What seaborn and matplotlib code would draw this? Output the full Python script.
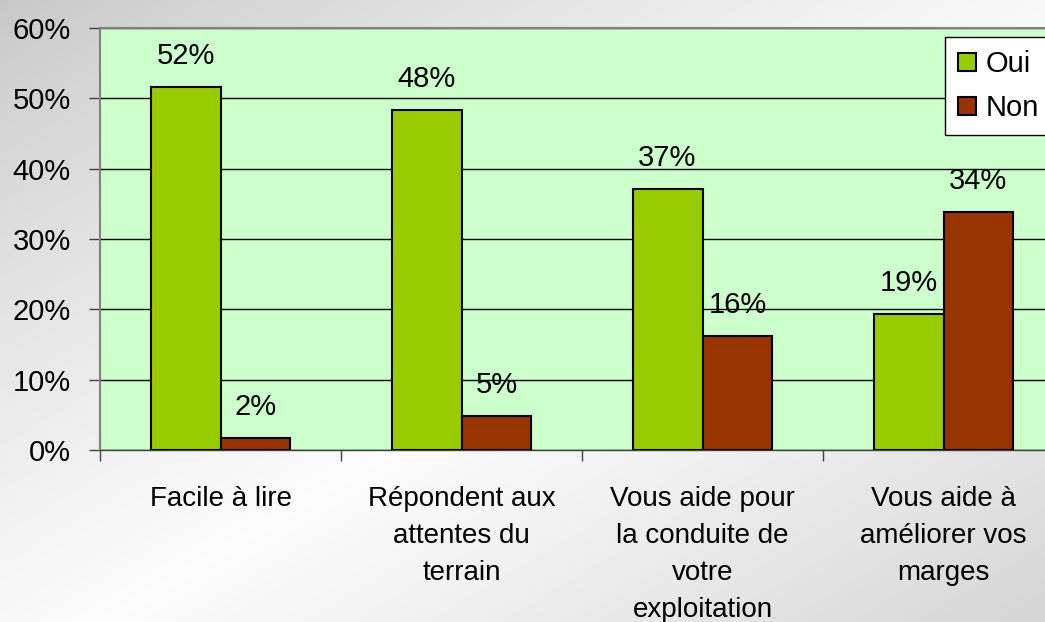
import numpy as np
import pandas as pd
import matplotlib
matplotlib.use("Agg")
import matplotlib.pyplot as plt
import seaborn as sns

categories = ["Facile à lire", "Répondent aux\nattentes du\nterrain",
              "Vous aide pour\nla conduite de\nvotre\nexploitation",
              "Vous aide à\naméliorer vos\nmarges"]
oui = [51.6, 48.4, 37.1, 19.4]
non = [1.7, 4.9, 16.2, 33.9]
series = ["Oui", "Non"]
yticks = [0, 10, 20, 30, 40, 50, 60]

sns.set_theme(style="white")
plt.rcParams['font.family'] = ['Liberation Sans', 'DejaVu Sans']
plt.rcParams['text.color'] = 'black'
plt.rcParams['xtick.color'] = 'black'
plt.rcParams['ytick.color'] = 'black'

df = pd.DataFrame({
    "cat": categories * 2,
    "val": oui + non,
    "rep": ["Oui"] * 4 + ["Non"] * 4,
})

W, H = 1045, 622
fig = plt.figure(figsize=(W / 100, H / 100), dpi=100)

# gradient background
bg = fig.add_axes([0, 0, 1, 1], zorder=-10)
xx, yy = np.meshgrid(np.linspace(0, 1, 400), np.linspace(0, 1, 240))
d = (xx + yy) / 2.0  # 0 at top-left, 1 at bottom-right
v = 1 - np.abs(d - 0.55) / 0.55
shade = 0.78 + 0.21 * np.clip(v, 0, 1) ** 0.8
img = np.dstack([shade, shade, shade])
bg.imshow(img, aspect="auto", extent=[0, 1, 0, 1], origin="upper")
bg.set_axis_off()

left, right, top, bottom = 100, 1064, 28, 450
ax = fig.add_axes([left / W, 1 - bottom / H, (right - left) / W, (bottom - top) / H])
ax.set_facecolor("#CCFFCC")

sns.barplot(data=df, x="cat", y="val", hue="rep", palette=["#99CC00", "#993300"],
            width=0.58, edgecolor="black", linewidth=1.5, saturation=1, ax=ax, zorder=3)

ax.set_ylim(0, 60)
ax.set_xlim(-0.5, 3.5)
ax.set_yticks(yticks)
ax.set_yticklabels([f"{t}%" for t in yticks], fontsize=21)
ax.yaxis.grid(True, color="black", linewidth=1, zorder=0)
ax.set_axisbelow(True)
ax.tick_params(axis="y", which="major", direction="out", length=8, width=1, color="#404040", pad=13, left=True)

ax.set_xticks([-0.5, 0.5, 1.5, 2.5, 3.5])
ax.set_xticklabels([""] * 5)
ax.tick_params(axis="x", which="major", direction="out", length=8, width=1, color="#404040", bottom=True)
ax.set_xticks(range(4), minor=True)
ax.set_xticklabels(categories, minor=True, fontsize=20, linespacing=1.55, ha="center", va="top")
ax.tick_params(axis="x", which="minor", length=0, pad=26)
ax.set_xlabel("")
ax.set_ylabel("")

for sp in ["left", "top", "right"]:
    ax.spines[sp].set_color("#808080")
    ax.spines[sp].set_linewidth(1.5)
ax.spines["bottom"].set_color("#404040")
ax.spines["bottom"].set_linewidth(1)

for cont in ax.containers:
    labels = [f"{round(b.get_height()):.0f}%" for b in cont]
    ax.bar_label(cont, labels=labels, padding=12, fontsize=21)

leg = ax.legend(loc="upper left", bbox_to_anchor=(945 / W, 1 - 37 / H), bbox_transform=fig.transFigure,
                fontsize=21, frameon=True, fancybox=False, edgecolor="black", framealpha=1,
                handlelength=0.6, handleheight=0.6, handletextpad=0.35, labelspacing=0.55,
                borderpad=0.45, borderaxespad=0)
leg.get_frame().set_linewidth(1)
leg.get_frame().set_facecolor("white")

fig.savefig("out.png", dpi=100)
